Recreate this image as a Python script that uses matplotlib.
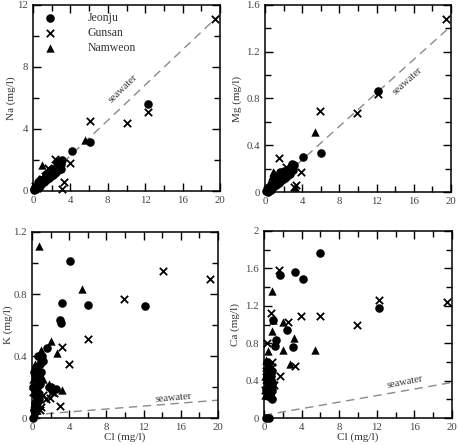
import matplotlib
matplotlib.use("Agg")
import matplotlib.pyplot as plt
from matplotlib.ticker import MultipleLocator, FuncFormatter

plt.rcParams['font.family'] = ['Liberation Serif', 'DejaVu Serif']

# ---------------- data ----------------
sites = ["Jeonju", "Gunsan", "Namweon"]

# Na vs Cl
na_jeonju_cl = [0.1, 0.2, 0.3, 0.4, 0.5, 0.6, 0.7, 0.8, 0.9, 1.0, 1.1, 1.2, 1.3, 1.5, 1.6, 1.8, 2.0, 2.2, 2.4, 2.6, 2.8, 2.9, 3.0, 3.1, 4.2, 6.1, 12.3,
                0.15, 0.35, 0.6, 0.8, 1.0, 1.2, 1.4, 1.7, 1.9, 2.1, 2.3, 2.5, 2.7, 3.0, 0.5, 0.8, 1.4, 2.0, 2.6]
na_jeonju = [0.15, 0.25, 0.2, 0.35, 0.3, 0.45, 0.4, 0.55, 0.5, 0.7, 0.65, 0.8, 0.75, 0.9, 1.0, 1.05, 1.2, 1.3, 1.35, 1.5, 1.6, 1.95, 1.75, 2.0, 2.55, 3.15, 5.6,
             0.05, 0.1, 0.25, 0.35, 0.5, 0.6, 0.7, 0.85, 0.95, 1.05, 1.15, 1.25, 1.35, 1.4, 0.55, 0.7, 1.1, 1.4, 1.8]
na_gunsan_cl = [0.2, 0.4, 0.7, 1.0, 1.3, 1.6, 2.3, 2.6, 3.1, 3.3, 4.0, 6.1, 10.0, 12.3, 19.5]
na_gunsan = [0.3, 0.2, 0.6, 0.8, 1.0, 1.5, 2.05, 1.6, 0.15, 0.55, 1.8, 4.5, 4.4, 5.1, 11.1]
na_namweon_cl = [0.3, 0.6, 1.0, 1.1, 1.4, 1.8, 2.2, 2.5, 0.5, 5.6, 0.8]
na_namweon = [0.4, 0.5, 1.7, 0.9, 1.1, 1.3, 1.5, 1.6, 0.3, 3.3, 0.75]

# Mg vs Cl
mg_jeonju_cl = [0.1, 0.2, 0.3, 0.4, 0.5, 0.6, 0.7, 0.8, 0.9, 1.0, 1.1, 1.2, 1.3, 1.5, 1.6, 1.8, 2.0, 2.2, 2.4, 2.6, 2.8, 2.9, 3.0, 3.1, 4.1, 6.0, 12.2,
                0.3, 0.6, 0.9, 1.2, 1.5, 1.8, 2.1, 2.4, 2.7, 1.0, 1.4, 2.0]
mg_jeonju = [0.01, 0.02, 0.03, 0.02, 0.04, 0.05, 0.04, 0.06, 0.07, 0.08, 0.07, 0.10, 0.09, 0.12, 0.17, 0.13, 0.15, 0.16, 0.18, 0.17, 0.20, 0.24, 0.19, 0.23, 0.30, 0.33, 0.86,
             0.0, 0.02, 0.04, 0.06, 0.08, 0.10, 0.12, 0.14, 0.15, 0.12, 0.14, 0.18]
mg_gunsan_cl = [0.2, 0.4, 0.7, 1.0, 1.3, 1.55, 2.3, 2.6, 3.1, 3.3, 3.9, 5.9, 9.9, 12.2, 19.5]
mg_gunsan = [0.02, 0.03, 0.05, 0.06, 0.10, 0.29, 0.21, 0.18, 0.04, 0.06, 0.17, 0.69, 0.68, 0.84, 1.48]
mg_namweon_cl = [0.3, 0.6, 0.9, 1.1, 1.4, 1.8, 2.2, 2.5, 0.5, 3.2, 5.4, 0.7, 1.0, 0.4, 1.6]
mg_namweon = [0.03, 0.06, 0.17, 0.10, 0.12, 0.14, 0.16, 0.20, 0.05, 0.04, 0.51, 0.14, 0.16, 0.08, 0.16]

# K vs Cl
k_jeonju_cl = [0.1, 0.2, 0.3, 0.4, 0.5, 0.6, 0.7, 0.8, 0.9, 1.0, 1.1, 1.2, 1.6, 1.8, 2.2, 2.6, 3.0, 3.1, 3.2, 4.1, 6.0, 12.1, 0.3, 0.5,
               0.2, 0.4, 0.6, 0.7, 0.9, 0.5, 0.3, 0.8, 1.0, 0.15, 2.0]
k_jeonju = [0.0, 0.05, 0.10, 0.15, 0.20, 0.25, 0.12, 0.30, 0.35, 0.38, 0.40, 0.37, 0.45, 0.20, 0.18, 0.19, 0.63, 0.61, 0.74, 1.01, 0.73, 0.72, 0.28, 0.07,
            0.30, 0.33, 0.40, 0.28, 0.22, 0.12, 0.04, 0.15, 0.30, 0.20, 0.20]
k_gunsan_cl = [0.1, 0.2, 0.3, 0.4, 0.6, 0.8, 1.0, 1.2, 1.5, 1.9, 2.4, 3.0, 3.2, 4.0, 6.0, 9.9, 14.1, 19.1, 0.5, 0.7, 0.9, 0.3, 2.2]
k_gunsan = [0.17, 0.03, 0.12, 0.22, 0.08, 0.25, 0.07, 0.15, 0.12, 0.13, 0.16, 0.08, 0.46, 0.35, 0.51, 0.77, 0.95, 0.90, 0.32, 0.19, 0.05, 0.28, 0.17]
k_namweon_cl = [0.8, 0.2, 0.4, 0.6, 0.9, 1.0, 2.0, 2.7, 3.2, 5.4, 0.5, 1.2, 0.3, 0.7, 0.1, 0.5, 1.8]
k_namweon = [1.11, 0.10, 0.20, 0.30, 0.42, 0.44, 0.50, 0.42, 0.18, 0.83, 0.15, 0.25, 0.35, 0.36, 0.25, 0.05, 0.22]

# Ca vs Cl
ca_jeonju_cl = [0.25, 0.5, 0.2, 0.4, 0.6, 0.8, 0.9, 1.0, 1.2, 1.3, 1.75, 2.4, 3.1, 3.3, 4.2, 6.0, 12.2, 0.3, 0.7, 0.9,
                0.6, 0.75, 0.8, 0.55, 0.4, 0.7, 0.9, 0.3]
ca_jeonju = [0.0, 0.0, 0.30, 0.35, 0.25, 0.20, 0.30, 1.05, 0.77, 0.83, 1.53, 0.94, 0.76, 1.56, 1.49, 1.76, 1.18, 0.45, 0.40, 0.50,
             0.22, 0.28, 0.35, 0.32, 0.25, 0.45, 0.38, 0.60]
ca_gunsan_cl = [0.1, 0.3, 0.5, 0.7, 0.9, 1.1, 1.6, 1.7, 2.5, 3.3, 3.9, 6.0, 9.9, 12.2, 19.5, 0.4, 0.2, 0.3, 0.6, 0.8, 0.9]
ca_gunsan = [0.30, 0.80, 0.55, 1.12, 0.60, 0.35, 1.58, 0.45, 1.03, 0.56, 1.09, 1.09, 1.00, 1.26, 1.24, 0.40, 0.50, 0.30, 0.42, 0.55, 0.25]
ca_namweon_cl = [0.1, 0.2, 0.3, 0.4, 0.6, 0.8, 0.9, 1.0, 2.0, 2.0, 2.75, 3.2, 5.4, 0.2, 0.5, 0.2, 0.6, 0.1, 0.45]
ca_namweon = [0.25, 0.62, 0.35, 0.72, 0.50, 1.36, 0.93, 1.05, 1.03, 0.725, 0.58, 0.86, 0.73, 0.55, 0.28, 0.42, 0.30, 0.45, 0.60]

# seawater dilution lines (values at Cl = 0 and Cl = 20)
seawater_cl = [0, 20]
seawater_na = [0.0, 11.4]
seawater_mg = [-0.01, 1.42]
seawater_k = [0.02, 0.115]
seawater_ca = [0.03, 0.38]

# ---------------- figure ----------------
W, H = 460, 445
fig = plt.figure(figsize=(W / 100, H / 100), dpi=100)

def px_axes(x0, y0, x1, y1):
    return fig.add_axes([x0 / W, (H - y1) / H, (x1 - x0) / W, (y1 - y0) / H])

fmt = FuncFormatter(lambda v, p: f"{v:g}")
tick_col = "#444444"

def style(ax, ymax, ymaj, ylabel, ylab_px, xlabel=None):
    ax.set_xlim(0, 20)
    ax.set_ylim(0, ymax)
    ax.xaxis.set_major_locator(MultipleLocator(4))
    ax.xaxis.set_minor_locator(MultipleLocator(2))
    ax.yaxis.set_major_locator(MultipleLocator(ymaj))
    ax.yaxis.set_minor_locator(MultipleLocator(ymaj / 2))
    ax.xaxis.set_major_formatter(fmt)
    ax.yaxis.set_major_formatter(fmt)
    ax.tick_params(which='both', direction='in', top=True, right=True,
                   width=1.0, colors='black', labelcolor=tick_col, labelsize=7.8)
    ax.tick_params(which='major', length=6, pad=3.5)
    ax.tick_params(which='minor', length=4.5)
    for s in ax.spines.values():
        s.set_linewidth(1.1)
    ax.set_ylabel(ylabel, fontsize=8.0, color='#333333')
    bb = ax.get_position()
    ax.yaxis.set_label_coords((ylab_px / W - bb.x0) / bb.width, 0.5)
    if xlabel:
        ax.set_xlabel(xlabel, fontsize=8.0, color='#333333', labelpad=0.5)

def draw(ax, groups, sw, txt_xy, txt_rot):
    ax.plot(seawater_cl, sw, linestyle=(0, (6, 4)), color='#8a8a8a', lw=1.0, zorder=1)
    ax.text(txt_xy[0], txt_xy[1], "seawater", rotation=txt_rot, fontsize=7.5,
            color='#333333', ha='center', va='center', rotation_mode='anchor')
    markers = [dict(marker='o', s=38, c='black', linewidths=0),
               dict(marker='x', s=28, c='black', linewidths=1.3),
               dict(marker='^', s=36, c='black', linewidths=0)]
    for (x, y), m, lab in zip(groups, markers, sites):
        ax.scatter(x, y, label=lab, clip_on=False, zorder=3, **m)

ax1 = px_axes(33, 5, 220, 191)
draw(ax1, [(na_jeonju_cl, na_jeonju), (na_gunsan_cl, na_gunsan), (na_namweon_cl, na_namweon)],
     seawater_na, (9.6, 6.6), 44)
style(ax1, 12, 4, "Na (mg/l)", 16)
leg = ax1.legend(loc='upper left', frameon=False, fontsize=8.5, handlelength=1.6,
                 handletextpad=2.4, labelspacing=0.25, borderaxespad=0.2,
                 scatterpoints=1)
for t in leg.get_texts():
    t.set_color('#333333')

ax2 = px_axes(265, 5, 451, 192)
draw(ax2, [(mg_jeonju_cl, mg_jeonju), (mg_gunsan_cl, mg_gunsan), (mg_namweon_cl, mg_namweon)],
     seawater_mg, (15.3, 0.95), 42)
style(ax2, 1.6, 0.4, "Mg (mg/l)", 242)

ax3 = px_axes(32, 232, 218, 418)
draw(ax3, [(k_jeonju_cl, k_jeonju), (k_gunsan_cl, k_gunsan), (k_namweon_cl, k_namweon)],
     seawater_k, (15.2, 0.128), 5)
style(ax3, 1.2, 0.4, "K (mg/l)", 13, "Cl (mg/l)")

ax4 = px_axes(264, 231, 452, 418)
draw(ax4, [(ca_jeonju_cl, ca_jeonju), (ca_gunsan_cl, ca_gunsan), (ca_namweon_cl, ca_namweon)],
     seawater_ca, (15.0, 0.38), 11)
style(ax4, 2, 0.4, "Ca (mg/l)", 240, "Cl (mg/l)")

fig.savefig("out.png", dpi=100)
